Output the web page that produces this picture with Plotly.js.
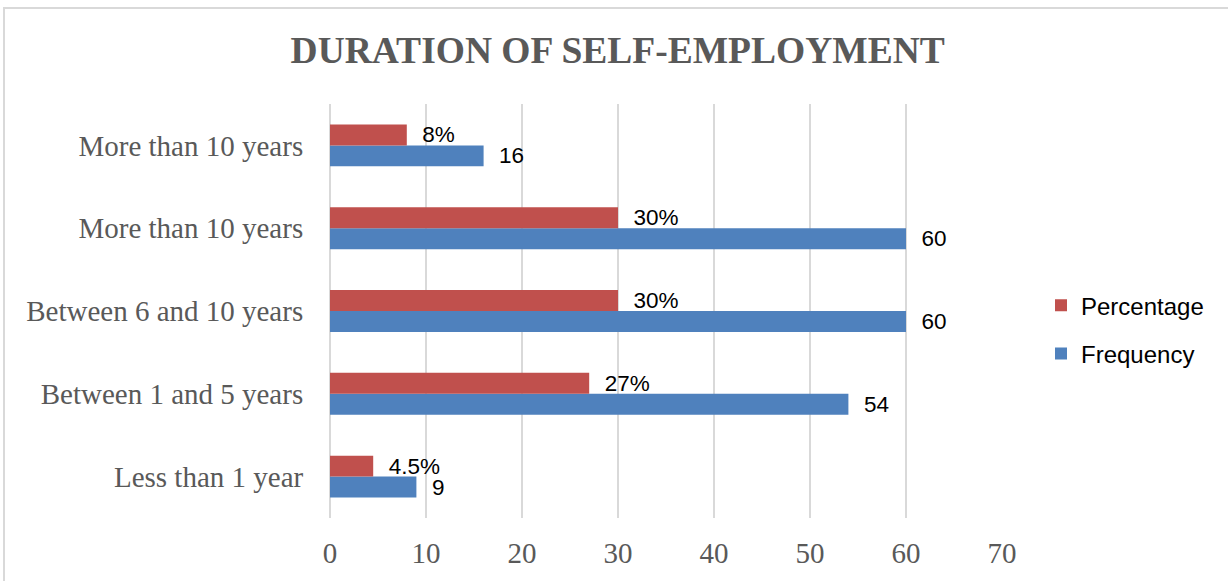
<!DOCTYPE html>
<html>
<head>
<meta charset="utf-8">
<script src="https://cdn.plot.ly/plotly-3.0.1.min.js"></script>
<style>
  html, body { margin: 0; padding: 0; background: #ffffff; overflow: hidden; }
  #frame { position: absolute; left: 3px; top: 7px; width: 1240px; height: 600px; border: 2px solid #d9d9d9; box-sizing: border-box; }
  #chart { position: absolute; left: 0; top: 0; width: 1228px; height: 581px; }
</style>
</head>
<body>
<div id="frame"></div>
<div id="chart"></div>
<script>
// Data (bottom to top)
const categories = ["Less than 1 year", "Between 1 and 5 years", "Between 6 and 10 years", "More than 10 years", "More than 10 years"];
const frequency = [9, 54, 60, 60, 16];
const percentage = [4.5, 27, 30, 30, 8];
const percentLabels = ["4.5%", "27%", "30%", "30%", "8%"];
const xTicks = [0, 10, 20, 30, 40, 50, 60, 70];

const positions = categories.map((c, i) => i);
const pad = "  ";

const traceFreq = {
  type: "bar", orientation: "h", name: "Frequency",
  x: frequency, y: positions,
  marker: { color: "#4F81BD" },
  text: frequency.map(v => pad + v), textposition: "outside", cliponaxis: false,
  constraintext: "none",
  textfont: { family: "Liberation Sans, Arial, sans-serif", size: 22.5, color: "#000000" },
  legendgroup: "f", legendrank: 2, hoverinfo: "skip"
};
const tracePct = {
  type: "bar", orientation: "h", name: "Percentage",
  x: percentage, y: positions,
  marker: { color: "#C0504D" },
  text: percentLabels.map(v => pad + v), textposition: "outside", cliponaxis: false,
  constraintext: "none",
  textfont: { family: "Liberation Sans, Arial, sans-serif", size: 22.5, color: "#000000" },
  legendgroup: "p", legendrank: 1, hoverinfo: "skip"
};

const layout = {
  width: 1228, height: 581,
  paper_bgcolor: "rgba(0,0,0,0)", plot_bgcolor: "rgba(0,0,0,0)",
  margin: { l: 330, r: 226, t: 103.5, b: 62.5, pad: 0 },
  title: {
    text: "<b>DURATION OF SELF-EMPLOYMENT</b>",
    font: { family: "Liberation Serif, Times New Roman, serif", size: 37.5, color: "#595959" },
    x: 0.503, xref: "container", xanchor: "center",
    y: 0.915, yref: "container", yanchor: "middle"
  },
  barmode: "group", bargap: 0.494, bargroupgap: 0,
  xaxis: {
    range: [0, 70], tickvals: xTicks, ticktext: xTicks.map(String),
    showgrid: true, gridcolor: "#d9d9d9", gridwidth: 2,
    zeroline: true, zerolinecolor: "#d9d9d9", zerolinewidth: 2,
    showline: false,
    ticks: "outside", ticklen: 9, tickcolor: "rgba(0,0,0,0)",
    tickfont: { family: "Liberation Serif, Times New Roman, serif", size: 29, color: "#595959" },
    fixedrange: true
  },
  yaxis: {
    range: [-0.5, 4.5], tickvals: positions, ticktext: categories,
    showgrid: false, zeroline: false, showline: false,
    ticks: "outside", ticklen: 20, tickcolor: "rgba(0,0,0,0)",
    tickfont: { family: "Liberation Serif, Times New Roman, serif", size: 29, color: "#595959" },
    fixedrange: true
  },
  showlegend: true,
  legend: {
    x: 1041 / 1228, xref: "container", xanchor: "left",
    y: 0.455, yanchor: "middle",
    traceorder: "grouped", tracegroupgap: 14,
    font: { family: "Liberation Sans, Arial, sans-serif", size: 24, color: "#000000" },
    itemwidth: 30, bgcolor: "rgba(0,0,0,0)"
  }
};

Plotly.newPlot("chart", [traceFreq, tracePct], layout, { displayModeBar: false, staticPlot: true });
</script>
</body>
</html>
